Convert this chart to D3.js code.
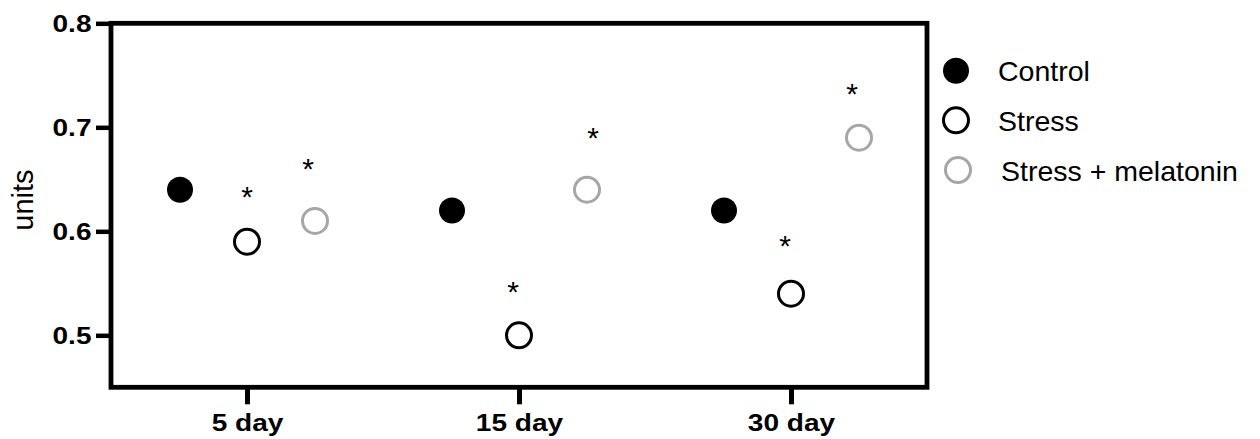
<!DOCTYPE html>
<html>
<head>
<meta charset="utf-8">
<script src="https://cdn.jsdelivr.net/npm/d3@7"></script>
<style>
  html, body { margin: 0; padding: 0; background: #fff; }
  svg { display: block; }
  text { font-family: "Liberation Sans", Arial, Helvetica, sans-serif; }
</style>
</head>
<body>
<svg id="chart" width="1260" height="439"></svg>
<script>
// ---- data ----
const categories = ["5 day", "15 day", "30 day"];
const seriesNames = ["Control", "Stress", "Stress + melatonin"];
const controlValues = [0.64, 0.62, 0.62];
const stressValues = [0.59, 0.50, 0.54];
const melatoninValues = [0.61, 0.64, 0.69];
// significance marks (asterisks), in data units
const stressStars = [0.639, 0.548, 0.592];
const melatoninStars = [0.666, 0.696, 0.738];
const yTicks = [0.5, 0.6, 0.7, 0.8];
const yDomain = [0.45, 0.8];
const yLabel = "units";

// ---- layout ----
const W = 1260, H = 439;
const margin = { left: 111, top: 23.3, right: 333, bottom: 51.7 };
const iw = W - margin.left - margin.right;   // 816
const ih = H - margin.top - margin.bottom;   // ~364
const gray = "#a6a6a6";
const textScale = 1.22;
const seriesOffset = [-67, 0, 68];
const starDx = { stress: [0, -6, -6], melatonin: [61, 74, 61] };

const svg = d3.select("#chart");
const g = svg.append("g").attr("transform", `translate(${margin.left},${margin.top})`);

const x = d3.scalePoint().domain(categories).range([0, iw]).padding(0.5);
const y = d3.scaleLinear().domain(yDomain).range([ih, 0]);

// y axis
const yAxis = g.append("g").call(
  d3.axisLeft(y).tickValues(yTicks).tickSize(15).tickSizeOuter(0).tickFormat(d3.format(".1f"))
);
yAxis.select(".domain").remove();
yAxis.selectAll(".tick line").attr("stroke", "#000").attr("stroke-width", 4.5);
yAxis.selectAll(".tick text")
  .attr("x", -19.5 / textScale)
  .attr("dy", "0.36em")
  .attr("transform", `scale(${textScale},1)`)
  .attr("font-size", 23)
  .attr("font-weight", "bold")
  .attr("fill", "#000")
  .style("font-family", '"Liberation Sans", Arial, sans-serif');

// x axis
const xAxis = g.append("g").attr("transform", `translate(0,${ih})`).call(
  d3.axisBottom(x).tickSize(17).tickSizeOuter(0)
);
xAxis.select(".domain").remove();
xAxis.selectAll(".tick line").attr("stroke", "#000").attr("stroke-width", 5);
xAxis.selectAll(".tick text")
  .attr("y", 44)
  .attr("dy", 0)
  .attr("transform", `scale(${textScale},1)`)
  .attr("font-size", 23)
  .attr("font-weight", "bold")
  .attr("fill", "#000")
  .style("font-family", '"Liberation Sans", Arial, sans-serif');

// frame
g.append("rect")
  .attr("x", 0).attr("y", 0).attr("width", iw).attr("height", ih)
  .attr("fill", "none").attr("stroke", "#000").attr("stroke-width", 4.8)
  .attr("stroke-linejoin", "miter");

// y label
svg.append("text")
  .attr("transform", `translate(33,${margin.top + y(0.63)}) rotate(-90)`)
  .attr("text-anchor", "middle")
  .attr("font-size", 29)
  .attr("fill", "#000")
  .text(yLabel);

// points
const series = [
  { name: seriesNames[0], values: controlValues, fill: "#000", stroke: "none", sw: 0, r: 13 },
  { name: seriesNames[1], values: stressValues, fill: "#fff", stroke: "#000", sw: 3, r: 12.5 },
  { name: seriesNames[2], values: melatoninValues, fill: "#fff", stroke: gray, sw: 3, r: 12.5 }
];

series.forEach((s, si) => {
  g.append("g").selectAll("circle")
    .data(s.values)
    .join("circle")
    .attr("cx", (d, i) => x(categories[i]) + seriesOffset[si])
    .attr("cy", d => y(d))
    .attr("r", s.r)
    .attr("fill", s.fill)
    .attr("stroke", s.stroke)
    .attr("stroke-width", s.sw);
});

// asterisks
function stars(vals, dx) {
  g.append("g").selectAll("text")
    .data(vals)
    .join("text")
    .attr("x", (d, i) => x(categories[i]) + dx[i])
    .attr("y", d => y(d))
    .attr("dy", "0.55em")
    .attr("text-anchor", "middle")
    .attr("font-size", 30)
    .attr("fill", "#000")
    .text("*");
}
stars(stressStars, starDx.stress);
stars(melatoninStars, starDx.melatonin);

// legend
const legend = svg.append("g");
const legendRows = [
  { cx: 956, cy: 70.7, tx: 998 },
  { cx: 956, cy: 120.3, tx: 998 },
  { cx: 958, cy: 170, tx: 1001 }
];
series.forEach((s, i) => {
  const row = legendRows[i];
  legend.append("circle")
    .attr("cx", row.cx).attr("cy", row.cy)
    .attr("r", s.r)
    .attr("fill", s.fill).attr("stroke", s.stroke).attr("stroke-width", s.sw);
  legend.append("text")
    .attr("x", row.tx).attr("y", row.cy + 10.5)
    .attr("font-size", 28.5)
    .attr("fill", "#000")
    .text(s.name);
});
</script>
</body>
</html>
